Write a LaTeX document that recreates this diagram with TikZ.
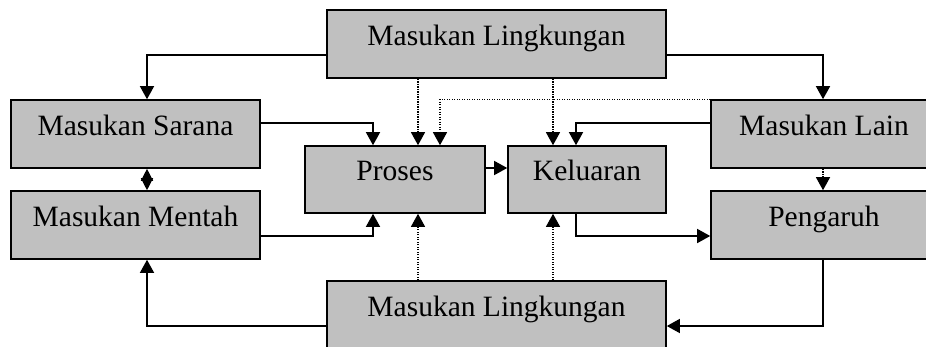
\documentclass[tikz,border=0pt]{standalone}
\usepackage{fontspec}
\setmainfont{Liberation Serif}
\usetikzlibrary{arrows.meta}
\definecolor{boxgray}{HTML}{C0C0C0}
\tikzset{
  box/.style={draw=black, fill=boxgray, line width=1.6pt, rectangle,
    inner sep=0pt, text height=0.7em, text depth=0.47em,
    font=\fontsize{29.5}{35}\selectfont},
  conn/.style={line width=1.4pt, -{Triangle[width=14pt,length=13pt]}},
  dconn/.style={line width=1.2pt, dash pattern=on 1.2pt off 1.3pt, -{Triangle[width=14pt,length=13pt]}},
}
\begin{document}
\begin{tikzpicture}[x=1pt,y=-1pt]
\clip (0,0) rectangle (926,346);
\fill[white] (0,0) rectangle (926,346);
\node[box, minimum width=339pt, minimum height=68pt] (mlt) at (496.5,44) {Masukan Lingkungan};
\node[box, minimum width=249pt, minimum height=68pt] (sarana) at (135.5,134) {Masukan Sarana};
\node[box, minimum width=249pt, minimum height=68pt] (mentah) at (135.5,225) {Masukan Mentah};
\node[box, minimum width=180pt, minimum height=67pt] (proses) at (395,179.5) {Proses};
\node[box, minimum width=158pt, minimum height=67pt] (keluaran) at (587,179.5) {Keluaran};
\node[box, minimum width=226pt, minimum height=68pt] (lain) at (824,134) {Masukan Lain};
\node[box, minimum width=226pt, minimum height=68pt] (pengaruh) at (824,225) {Pengaruh};
\node[box, minimum width=339pt, minimum height=68pt] (mlb) at (496.5,315) {Masukan Lingkungan};

\draw[conn] ([yshift=-11pt]mlt.west) -| ([xshift=11.5pt]sarana.north);
\draw[conn] ([yshift=-11pt]mlt.east) -| ([xshift=-1pt]lain.north);
\draw[dconn] ([xshift=-78.5pt]mlt.south) -- ([xshift=23pt]proses.north);
\draw[dconn] (lain.north west) -| ([xshift=45pt]proses.north);
\draw[dconn] ([xshift=56.5pt]mlt.south) -- ([xshift=-34pt]keluaran.north);
\draw[conn] ([yshift=11pt]lain.west) -| ([xshift=-11pt]keluaran.north);
\draw[conn] ([yshift=11pt]sarana.east) -| ([xshift=-22pt]proses.north);
\draw[line width=1.4pt, {Triangle[width=12pt,length=12pt]}-{Triangle[width=12pt,length=12pt]}] ([xshift=11.5pt]sarana.south) -- ([xshift=11.5pt]mentah.north);
\draw[dconn] ([xshift=-1pt]lain.south) -- ([xshift=-1pt]pengaruh.north);
\draw[conn] ([yshift=11.5pt]proses.east) -- ([yshift=11.5pt]keluaran.west);
\draw[conn] ([yshift=-11pt]mentah.east) -| ([xshift=-22pt]proses.south);
\draw[dconn] ([xshift=-78.5pt]mlb.north) -- ([xshift=23pt]proses.south);
\draw[dconn] ([xshift=56.5pt]mlb.north) -- ([xshift=-34pt]keluaran.south);
\draw[conn] ([xshift=-11pt]keluaran.south) |- ([yshift=-11pt]pengaruh.west);
\draw[conn] ([xshift=-1pt]pengaruh.south) |- ([yshift=-11pt]mlb.east);
\draw[conn] ([yshift=-11pt]mlb.west) -| ([xshift=11.5pt]mentah.south);
\end{tikzpicture}
\end{document}
